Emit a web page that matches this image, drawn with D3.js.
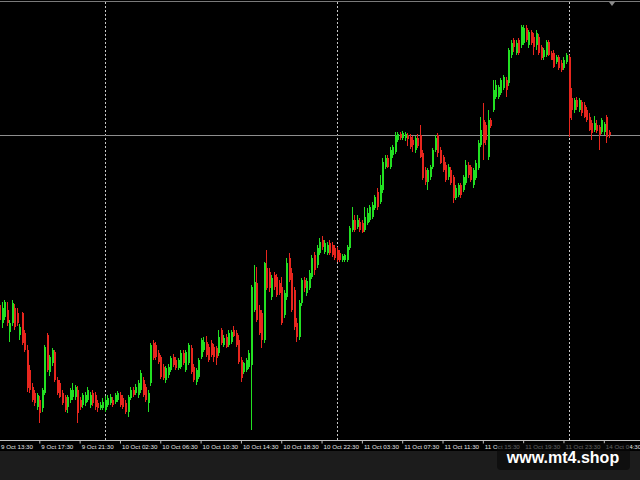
<!DOCTYPE html>
<html>
<head>
<meta charset="utf-8">
<script src="https://cdn.jsdelivr.net/npm/d3@7"></script>
<style>
html,body{margin:0;padding:0;background:#000;}
svg{display:block;}
</style>
</head>
<body>
<svg id="chart" width="640" height="480"></svg>
<script>
// ---- Data (M15 bars, price in points) ----
const openP = [195,177,183,190,168,177,192,187,165,187,167,150,130,113,107,93,100,92,107,165,128,137,148,120,117,107,103,93,100,103,103,110,100,95,97,100,95,107,105,97,92,92,90,95,97,100,98,100,105,102,97,88,102,110,107,105,110,120,113,97,117,157,155,147,143,133,120,125,130,143,140,132,133,147,130,137,152,133,118,123,143,150,158,153,157,153,152,147,170,155,163,155,158,170,167,160,140,128,130,133,135,190,217,190,187,160,232,228,203,225,223,217,213,185,203,242,227,210,177,163,197,220,207,212,223,245,235,247,260,248,247,257,255,252,250,247,240,240,240,252,270,280,273,278,277,270,277,280,283,292,308,298,310,333,342,333,345,348,360,366,362,362,365,363,360,350,362,365,347,330,318,323,333,350,365,350,343,335,323,330,323,302,305,315,310,317,335,333,315,322,332,355,380,375,343,380,390,403,403,407,412,420,417,445,460,447,460,455,457,472,455,468,463,455,463,453,443,445,458,447,447,438,443,437,432,438,443,402,390,400,390,398,395,390,383,377,370,375,373,368,368,383,368];
const highP = [200,198,200,198,180,200,196,192,176,188,170,155,135,117,110,107,104,112,155,167,145,152,150,123,120,110,105,105,112,117,115,114,103,107,108,113,108,110,108,100,98,102,104,105,106,103,107,109,108,105,100,105,113,113,116,120,130,123,116,110,157,160,158,150,145,136,134,136,144,146,143,142,150,150,150,157,155,136,132,142,162,163,164,156,160,156,154,170,172,165,166,170,170,174,170,165,143,138,142,150,215,235,233,195,190,238,250,232,225,228,226,220,223,210,242,247,232,213,182,200,222,223,222,230,245,248,255,262,264,260,258,260,258,255,253,250,246,246,255,274,293,285,285,282,280,293,292,295,298,305,312,325,342,345,345,353,355,368,368,368,369,368,367,366,364,364,366,375,350,333,332,335,352,365,367,353,345,338,336,333,325,315,317,317,325,340,338,335,332,340,360,383,397,378,390,382,420,420,415,422,425,423,452,460,462,460,462,475,475,475,470,470,467,470,466,455,452,460,460,449,450,445,445,440,443,447,445,412,402,403,402,400,398,393,387,380,384,380,375,382,378,385,370];
const lowP = [175,172,180,174,158,174,170,174,160,155,148,108,107,98,94,90,77,88,105,128,124,134,118,105,102,95,88,87,97,100,100,77,90,92,94,98,92,94,90,88,90,90,88,93,95,93,96,98,93,91,86,83,100,103,105,102,107,103,98,88,114,140,140,136,121,120,117,122,128,133,130,130,131,135,128,135,126,118,115,121,141,148,143,138,143,138,135,144,155,153,152,153,156,163,153,136,118,126,128,131,70,188,178,165,152,157,210,208,200,210,203,205,175,182,200,218,188,170,158,160,194,208,204,210,221,225,232,245,250,246,245,245,243,240,238,238,238,238,238,250,268,268,271,268,267,268,275,278,281,290,290,296,307,331,332,331,342,346,358,360,360,359,354,351,348,347,352,342,320,315,310,320,331,348,343,336,328,318,320,315,297,300,303,302,308,315,322,318,312,320,330,353,340,355,340,372,388,401,401,405,410,403,414,442,448,445,445,452,455,458,452,455,445,450,445,440,440,443,444,440,432,436,430,428,430,436,363,380,387,390,388,384,382,378,369,360,368,367,350,366,365,357,362];
const closeP = [180,192,198,177,177,197,173,177,173,157,150,112,110,100,97,105,87,110,153,130,143,150,120,107,103,97,90,103,110,110,113,87,93,105,105,110,105,97,93,92,95,98,100,102,103,95,105,107,95,93,88,103,110,105,113,117,127,105,100,107,155,142,143,138,123,122,132,133,142,135,132,140,147,137,148,155,128,120,130,140,160,158,145,140,145,143,142,163,157,162,153,167,168,164,155,138,122,137,140,147,213,218,180,167,160,237,212,212,222,213,205,207,177,207,237,220,190,173,163,197,220,212,219,227,242,230,252,258,253,257,255,247,245,242,240,240,244,245,253,272,280,270,280,270,268,283,287,293,295,303,293,315,338,342,333,350,353,365,366,362,367,366,361,353,355,362,354,343,322,318,330,333,350,362,347,337,330,320,333,317,302,312,315,305,323,335,325,320,330,337,357,370,357,360,380,374,410,415,413,420,423,410,450,457,453,457,447,473,472,460,468,457,453,467,447,442,450,458,445,440,433,443,432,430,440,445,382,390,400,393,400,387,383,380,370,367,377,369,365,380,376,363,365];
const tickLabels = ["9 Oct 13:30","9 Oct 17:30","9 Oct 21:30","10 Oct 02:30","10 Oct 06:30","10 Oct 10:30","10 Oct 14:30","10 Oct 18:30","10 Oct 22:30","11 Oct 03:30","11 Oct 07:30","11 Oct 11:30","11 Oct 15:30","11 Oct 19:30","11 Oct 23:30","14 Oct 04:30"];
const tickBars = [0,16,32,48,64,80,96,112,128,144,160,176,192,208,224,240];
const separatorBars = [42,134,226];
const bidPrice = 365;

// ---- Drawing ----
const W = 640, H = 480, plotBottom = 440;
const svg = d3.select("#chart");
const n = closeP.length;
const bars = d3.range(n).map(i => ({i, o: openP[i], h: highP[i], l: lowP[i], c: closeP[i]}));

const x = d3.scaleLinear().domain([0, n - 1]).range([-1, -1 + 2.52 * (n - 1)]);
const y = d3.scaleLinear().domain([60, 500]).range([plotBottom, 0]);

svg.append("rect").attr("width", W).attr("height", H).attr("fill", "#000");
svg.append("rect").attr("x", 0).attr("y", 451).attr("width", W).attr("height", H - 451).attr("fill", "#1c1c1c");

// top border
svg.append("line").attr("x1", 0).attr("x2", W).attr("y1", 1.5).attr("y2", 1.5)
  .attr("stroke", "#7a7a7a").attr("stroke-width", 1);
// shift marker
svg.append("path").attr("d", "M609,2 L615,2 L612,6 Z").attr("fill", "#8a8a8a");

// day separators
svg.append("g").selectAll("line").data(separatorBars).join("line")
  .attr("x1", d => Math.round(x(d)) + 0.5).attr("x2", d => Math.round(x(d)) + 0.5)
  .attr("y1", 2).attr("y2", plotBottom)
  .attr("stroke", "#c8c8c8").attr("stroke-width", 1).attr("stroke-dasharray", "2,2");

// bid line
svg.append("line").attr("x1", 0).attr("x2", W)
  .attr("y1", Math.round(y(bidPrice)) + 0.5).attr("y2", Math.round(y(bidPrice)) + 0.5)
  .attr("stroke", "#8e8e8e").attr("stroke-width", 1);

const up = "#22e022", down = "#e8261e";
const g = svg.append("g");
g.selectAll("line.wick").data(bars).join("line").attr("class", "wick")
  .attr("x1", d => Math.round(x(d.i)) + 0.5).attr("x2", d => Math.round(x(d.i)) + 0.5)
  .attr("y1", d => y(d.h)).attr("y2", d => y(d.l))
  .attr("stroke", d => d.c >= d.o ? up : down).attr("stroke-width", 1);
g.selectAll("rect.body").data(bars).join("rect").attr("class", "body")
  .attr("x", d => Math.round(x(d.i)))
  .attr("width", 2)
  .attr("y", d => y(Math.max(d.o, d.c)))
  .attr("height", d => Math.max(1, Math.abs(y(d.o) - y(d.c))))
  .attr("fill", d => d.c >= d.o ? up : down);

// time axis
const axis = d3.axisBottom(x).tickValues(tickBars).tickFormat((d, k) => tickLabels[k]).tickSize(3).tickSizeOuter(0);
const ax = svg.append("g").attr("transform", `translate(0,${plotBottom + 0.5})`).call(axis);
ax.select(".domain").attr("stroke", "#c0c0c0").attr("d", `M0,0H${W}`);
ax.selectAll(".tick line").attr("stroke", "#c0c0c0");
ax.selectAll(".tick text")
  .attr("fill", "#e6e6e6").attr("text-anchor", "start").attr("dx", 1.5).attr("y", 8.5).attr("dy", 0)
  .style("font-family", "'Liberation Sans', Arial, sans-serif").style("font-size", "6.2px");

// watermark
svg.append("rect").attr("x", 497).attr("y", 443).attr("width", 133).attr("height", 27).attr("rx", 4)
  .attr("fill", "rgba(8,8,8,0.62)");
svg.append("text").attr("x", 563).attr("y", 463).attr("text-anchor", "middle")
  .attr("fill", "#ffffff").style("font-family", "'Liberation Sans', Arial, sans-serif")
  .style("font-weight", "bold").style("font-size", "16px").text("www.mt4.shop");
</script>
</body>
</html>
